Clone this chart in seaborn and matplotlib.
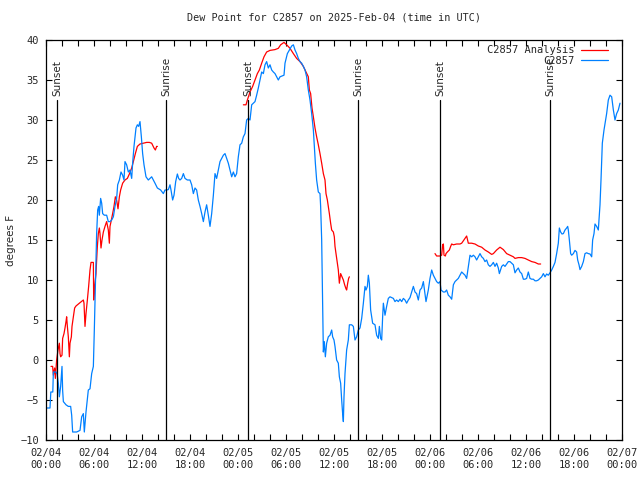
import numpy as np
import pandas as pd
import matplotlib
matplotlib.use("Agg")
import matplotlib.pyplot as plt
import seaborn as sns

# hours since 2025-02-04 00:00 UTC, dew point in F
obs_hours = [0.0, 0.5, 0.6, 0.85, 0.92, 1.25, 1.4, 1.54, 1.67, 1.83, 2.0, 2.08, 2.17, 2.5, 2.79,
             3.08, 3.21, 3.33, 3.83, 4.25, 4.46, 4.67, 4.79, 5.0, 5.29, 5.5, 5.71, 5.92, 6.04, 6.125,
             6.25, 6.33, 6.46, 6.58, 6.67, 6.83, 6.96, 7.08, 7.29, 7.58, 7.79, 8.0, 8.21, 8.42, 8.625,
             8.83, 8.96, 9.17, 9.375, 9.58, 9.75, 9.875, 10.08, 10.29, 10.5, 10.71, 10.83, 11.0, 11.25,
             11.42, 11.58, 11.75, 11.92, 12.08, 12.25, 12.5, 12.79, 13.0, 13.21, 13.42, 13.625, 13.92,
             14.33, 14.67, 14.875, 15.08, 15.29, 15.5, 15.625, 15.83, 16.0, 16.21, 16.42, 16.58, 16.75,
             16.96, 17.17, 17.375, 17.67, 18.0, 18.21, 18.42, 18.625, 18.83, 19.04, 19.25, 19.46, 19.67,
             19.875, 20.08, 20.29, 20.5, 20.71, 20.92, 21.125, 21.33, 21.54, 21.75, 21.96, 22.17, 22.375,
             22.58, 22.79, 23.0, 23.21, 23.42, 23.625, 23.83, 24.04, 24.25, 24.46, 24.67, 24.875, 25.08,
             25.29, 25.5, 25.71, 25.92, 26.125, 26.33, 26.54, 26.75, 26.96, 27.17, 27.375, 27.58, 27.79,
             28.0, 28.21, 28.42, 28.625, 28.83, 29.04, 29.25, 29.75, 29.875, 30.17, 30.42, 30.71, 30.92,
             31.125, 31.33, 31.54, 31.75, 31.96, 32.17, 32.375, 32.58, 32.79, 33.0, 33.21, 33.42, 33.54,
             33.67, 33.83, 34.04, 34.25, 34.33, 34.46, 34.58, 34.67, 34.79, 34.92, 35.08, 35.29, 35.5,
             35.71, 35.83, 36.0, 36.125, 36.33, 36.54, 36.67, 36.83, 36.96, 37.08, 37.17, 37.25, 37.375,
             37.58, 37.79, 37.92, 38.21, 38.42, 38.625, 38.83, 39.04, 39.25, 39.46, 39.67, 39.875, 40.0,
             40.17, 40.29, 40.42, 40.58, 40.83, 41.125, 41.33, 41.54, 41.67, 41.83, 41.96, 42.08, 42.17,
             42.375, 42.58, 42.79, 43.0, 43.42, 43.625, 43.83, 44.04, 44.25, 44.46, 44.67, 44.875, 45.08,
             45.29, 45.5, 45.71, 45.92, 46.125, 46.33, 46.54, 46.75, 46.96, 47.17, 47.375, 47.5, 47.79,
             48.0, 48.21, 48.42, 48.625, 48.83, 49.04, 49.25, 49.375, 49.67, 49.875, 50.08, 50.29, 50.5,
             50.71, 50.92, 51.125, 51.33, 51.54, 51.75, 51.96, 52.17, 52.375, 52.58, 52.79, 53.0, 53.21,
             53.42, 53.625, 53.83, 54.04, 54.25, 54.46, 54.67, 54.875, 55.08, 55.29, 55.5, 55.71, 55.92,
             56.125, 56.33, 56.54, 56.67, 56.96, 57.17, 57.375, 57.58, 57.79, 58.0, 58.21, 58.42, 58.625,
             58.83, 59.04, 59.25, 59.46, 59.67, 59.875, 60.08, 60.29, 60.5, 60.71, 60.92, 61.125, 61.33,
             61.54, 61.75, 61.96, 62.17, 62.375, 62.58, 62.79, 63.0, 63.21, 63.42, 63.625, 63.83, 64.04,
             64.17, 64.33, 64.5, 64.67, 64.875, 65.08, 65.21, 65.29, 65.42, 65.58, 65.71, 65.92, 66.125,
             66.33, 66.46, 66.625, 66.75, 66.96, 67.17, 67.375, 67.58, 67.79, 68.0, 68.21, 68.33, 68.5,
             68.625, 68.83, 69.04, 69.25, 69.375, 69.54, 69.75, 69.92, 70.08, 70.29, 70.5, 70.71, 70.92,
             71.125, 71.33, 71.54, 71.75]
obs_dewpt = [-6.0, -6.0, -4.0, -4.0, -1.5, -1.5, -1.8, -2.9, -4.6, -3.3, -0.8, -3.8, -5.2, -5.6, -5.8,
             -5.8, -6.9, -9.0, -9.0, -8.8, -7.1, -6.7, -9.0, -6.5, -3.75, -3.6, -1.7, -0.8, 3.75, 7.5,
             12.5, 15.8, 18.75, 19.2, 18.1, 20.2, 19.6, 18.3, 18.1, 18.1, 17.3, 17.3, 17.5, 17.9, 19.2,
             20.2, 21.9, 22.5, 23.5, 23.1, 22.5, 24.8, 24.4, 23.5, 23.75, 22.7, 24.6, 26.7, 29.0,
             29.4, 29.2, 29.8, 27.9, 25.8, 24.4, 22.9, 22.5, 22.7, 22.9, 22.5, 22.1, 21.5,
             21.25, 20.8, 21.25, 21.25, 21.3, 21.9, 21.25, 20.0, 20.6, 22.3, 23.25, 22.7, 22.5,
             22.7, 23.3, 22.7, 22.5, 22.5, 21.9, 20.8, 21.5, 21.25, 20.0, 19.2, 18.3, 17.3,
             18.5, 19.4, 18.1, 16.7, 18.3, 20.6, 23.3, 22.7, 23.75, 24.8, 25.2, 25.6, 25.8,
             25.2, 24.6, 23.75, 22.9, 23.5, 22.9, 23.3, 25.4, 26.9, 27.1, 27.9, 28.3, 30.0,
             30.2, 30.0, 31.9, 32.1, 32.3, 33.1, 34.0, 35.0, 36.0, 35.8, 36.9, 37.3, 36.5,
             36.9, 36.25, 36.0, 35.8, 35.4, 35.0, 35.4, 35.6, 37.1, 38.3, 38.75, 39.25, 39.4,
             38.75, 38.3, 37.7, 37.3, 37.1, 36.7, 36.25, 35.4, 33.75, 32.5, 30.8, 28.75, 26.7,
             24.6, 22.5, 21.0, 20.8, 19.2, 15.0, 7.1, 1.0, 2.3, 0.4, 2.1, 2.9, 3.1,
             3.75, 2.9, 2.5, 1.7, 0.0, -0.4, -2.1, -2.9, -5.0, -6.7, -7.7, -4.6, -1.7,
             1.25, 2.5, 4.4, 4.4, 4.2, 2.5, 2.9, 3.75, 4.0, 5.2, 7.1, 9.2, 8.75,
             9.2, 10.6, 9.6, 6.25, 4.6, 4.4, 3.1, 2.7, 4.2, 2.7, 2.5, 5.4, 7.1,
             5.6, 6.7, 7.7, 7.9, 7.7, 7.3, 7.5, 7.3, 7.6, 7.3, 7.7, 7.5, 7.1,
             7.5, 7.8, 8.5, 9.2, 8.5, 8.3, 7.5, 8.75, 9.0, 9.8, 8.3, 7.3, 8.75,
             10.2, 11.25, 10.6, 10.2, 9.8, 9.6, 9.8, 8.75, 8.5, 8.5, 8.75, 8.1, 7.9,
             7.6, 9.4, 9.8, 10.0, 10.2, 10.6, 11.0, 10.8, 10.6, 10.2, 11.7, 13.1, 12.9,
             13.1, 12.9, 12.5, 12.9, 13.3, 12.9, 12.7, 12.3, 12.5, 11.9, 11.7, 11.9, 12.2,
             11.7, 12.1, 11.5, 10.8, 11.7, 11.9, 11.7, 12.0, 12.3, 12.3, 12.1, 11.9, 10.9,
             11.25, 11.5, 11.0, 10.8, 10.1, 10.1, 10.2, 11.0, 10.2, 10.1, 10.1, 9.9, 9.9,
             10.0, 10.2, 10.4, 10.8, 10.4, 10.75, 10.6, 10.9, 11.25, 11.7, 12.2, 13.3, 14.6,
             16.5, 16.0, 15.75, 15.8, 16.25, 16.5, 16.7, 16.25, 15.0, 13.3, 13.1, 13.3, 13.7,
             13.5, 12.5, 11.9, 11.3, 11.7, 12.3, 13.3, 13.4, 13.3, 13.25, 12.9, 15.0, 15.8,
             17.0, 16.7, 16.25, 19.4, 22.5, 27.1, 28.75, 29.8, 30.8, 32.5, 33.1, 32.9, 31.25,
             30.0, 30.8, 31.25, 32.1]

# analysis series, NaN marks a gap in the record
ana_hours = [0.625, 0.83, 0.92, 1.08, 1.17, 1.33, 1.5, 1.67, 1.75, 1.83, 2.0, 2.08, 2.25, 2.375, 2.5,
             2.58, 2.67, 2.79, 2.92, 3.0, 3.17, 3.25, 3.42, 3.58, 3.75, 4.17, 4.67, 4.75, 4.875, 5.0,
             5.17, 5.33, 5.5, 5.625, 5.92, 5.96, 6.08, 6.25, 6.33, 6.42, 6.54, 6.67, 6.75, 6.875, 7.0,
             7.17, 7.375, 7.58, 7.79, 7.92, 8.0, 8.17, 8.33, 8.5, 8.67, 8.83, 9.0, 9.17, 9.33, 9.58,
             9.875, 10.17, 10.42, 10.71, 10.92, 11.17, 11.42, 11.75, 12.17, 12.58, 12.92, 13.21, 13.5,
             13.67, 13.83, 13.92, np.nan,
             24.67, 25.0, 25.17, 25.5, 25.83, 26.125, 26.42, 26.67, 26.96, 27.25, 27.58, 28.0, 28.625,
             29.04, 29.33, 29.75, 30.08, 30.5, 30.92, 31.33, 31.75, 32.17, 32.5, 32.79, 32.92, 33.08,
             33.25, 33.42, 33.625, 33.83, 34.04, 34.25, 34.46, 34.67, 34.875, 35.0, 35.17, 35.42, 35.58,
             35.71, 35.92, 36.04, 36.125, 36.25, 36.42, 36.54, 36.67, 36.83, 37.0, 37.17, 37.33, 37.5,
             37.58, 37.71, 37.83, 37.92, np.nan,
             48.625, 48.83, 49.25, 49.46, 49.58, 49.67, 49.75, 49.92, 50.0, 50.17, 50.42, 50.58, 50.71,
             50.92, 51.33, 51.75, 51.96, 52.17, 52.375, 52.58, 52.79, 53.21, 53.625, 54.04, 54.46,
             54.875, 55.29, 55.71, 55.92, 56.33, 56.75, 57.17, 57.58, 58.0, 58.42, 58.625, 59.04, 59.46,
             59.875, 60.29, 60.71, 61.125, 61.54, 61.83]
ana_dewpt = [-0.8, -0.8, -1.9, -1.0, -2.3, 0.0, 1.25, 2.1, 0.8, 0.4, 0.6, 2.7, 3.3, 4.0, 4.8,
             5.4, 4.2, 2.9, 0.4, 2.1, 2.9, 4.2, 5.4, 6.5, 6.75, 7.1, 7.5, 7.1, 4.2, 5.8,
             7.5, 9.2, 11.25, 12.2, 12.2, 7.5, 9.2, 10.8, 12.5, 14.2, 15.8, 16.5, 15.8, 14.0, 15.0,
             16.0, 16.7, 17.3, 16.25, 14.6, 16.7, 17.5, 18.3, 19.2, 20.4, 20.0, 18.9, 20.4, 21.25, 22.1,
             22.5, 22.7, 23.25, 24.0, 24.8, 25.8, 26.7, 27.0, 27.1, 27.2, 27.2, 27.1, 26.5,
             26.25, 26.7, 26.7, np.nan,
             31.9, 31.9, 32.5, 33.5, 34.2, 35.0, 35.8, 36.25, 37.1, 37.9, 38.5, 38.7, 38.8,
             38.96, 39.4, 39.7, 39.4, 38.96, 38.3, 37.7, 37.3, 36.7, 36.0, 35.4, 33.75, 33.3,
             31.5, 30.4, 29.0, 27.9, 26.9, 25.8, 24.6, 23.3, 22.5, 20.8, 20.0, 18.3, 17.1,
             16.25, 16.0, 15.4, 14.2, 13.3, 12.1, 11.25, 9.6, 10.8, 10.4, 10.0, 9.4, 8.9,
             8.75, 9.6, 10.2, 10.4, np.nan,
             13.3, 13.0, 13.0, 13.1, 14.4, 14.5, 13.1, 13.0, 13.3, 13.5, 13.75, 14.2, 14.5,
             14.4, 14.5, 14.5, 14.6, 14.9, 15.2, 15.5, 14.6, 14.6, 14.5, 14.25, 14.1,
             13.75, 13.5, 13.2, 13.3, 13.75, 14.1, 13.8, 13.3, 13.1, 12.9, 12.7, 12.8, 12.8,
             12.7, 12.5, 12.3, 12.2, 12.0, 12.0]

sun_hours = [1.375, 15.0, 25.25, 39.0, 49.25, 63.0]
sun_labels = ["Sunset", "Sunrise", "Sunset", "Sunrise", "Sunset", "Sunrise"]

tick_hours = [0, 6, 12, 18, 24, 30, 36, 42, 48, 54, 60, 66, 72]
tick_labels = ["02/04\n00:00", "02/04\n06:00", "02/04\n12:00", "02/04\n18:00",
               "02/05\n00:00", "02/05\n06:00", "02/05\n12:00", "02/05\n18:00",
               "02/06\n00:00", "02/06\n06:00", "02/06\n12:00", "02/06\n18:00",
               "02/07\n00:00"]

obs = pd.DataFrame({"hour": obs_hours, "dewpt": obs_dewpt})
ana = pd.DataFrame({"hour": ana_hours, "dewpt": ana_dewpt})
ana["seg"] = ana["hour"].isna().cumsum()
ana = ana.dropna()

sns.set_style("ticks")
plt.rcParams["font.family"] = ["DejaVu Sans Mono", "DejaVu Sans"]
plt.rcParams["xtick.direction"] = "in"
plt.rcParams["ytick.direction"] = "in"

fig = plt.figure(figsize=(6.4, 4.8), dpi=100)
ax = fig.add_axes([46 / 640, 40 / 480, 576 / 640, 400 / 480])

sns.lineplot(data=ana, x="hour", y="dewpt", units="seg", estimator=None,
             color="#ff0000", lw=0.9, label="C2857 Analysis", ax=ax)
sns.lineplot(data=obs, x="hour", y="dewpt", color="#0080ff", lw=0.9,
             label="C2857", ax=ax)

for h, lab in zip(sun_hours, sun_labels):
    ax.plot([h, h], [-10, 32.5], color="black", lw=0.9)
    ax.text(h, 33.0, lab, rotation=90, ha="center", va="bottom",
            fontsize=7.5, family="DejaVu Sans")

ax.set_xlim(0, 72)
ax.set_ylim(-10, 40)
ax.set_xticks(tick_hours)
ax.set_xticklabels(tick_labels)
ax.set_xticks(np.arange(0, 73, 2), minor=True)
ax.set_yticks(np.arange(-10, 41, 5))
ax.tick_params(which="both", top=True, right=True, length=4, width=0.8,
               labelsize=7.5, color="black")
ax.tick_params(axis="x", pad=6)
ax.tick_params(axis="y", pad=5)
for s in ax.spines.values():
    s.set_linewidth(0.9)
    s.set_color("black")

ax.set_xlabel("")
ax.set_ylabel("degrees F", family="DejaVu Sans", fontsize=7.5)
ax.yaxis.set_label_coords(-0.052, 0.5)
ax.set_title("Dew Point for C2857 on 2025-Feb-04 (time in UTC)", fontsize=7.3, pad=14)

handles, labels = ax.get_legend_handles_labels()
uniq = dict(zip(labels, handles))
ax.legend([uniq["C2857 Analysis"], uniq["C2857"]], ["C2857 Analysis", "C2857"],
          loc="upper right", frameon=False, markerfirst=False, fontsize=7.5,
          handlelength=2.6, labelspacing=0.05, borderaxespad=0.1,
          handletextpad=0.6, bbox_to_anchor=(0.985, 1.0))

fig.savefig("out.png", dpi=100)
